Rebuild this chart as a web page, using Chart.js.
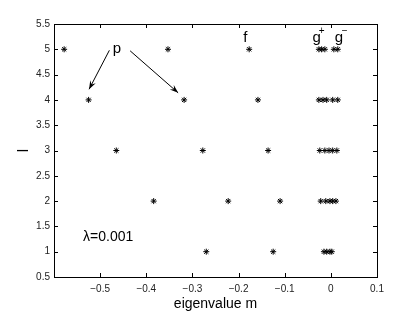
<!DOCTYPE html>
<html>
<head>
<meta charset="utf-8">
<script src="https://cdn.jsdelivr.net/npm/chart.js@4/dist/chart.umd.min.js"></script>
<style>
  html, body { margin: 0; padding: 0; background: #fff; }
  #wrap { width: 415px; height: 313px; }
</style>
</head>
<body>
<div id="wrap"><canvas id="eigChart" width="415" height="313"></canvas></div>
<script>
// eigenvalues m for each l
const levels = [1, 2, 3, 4, 5];
const pModes = [
  [-0.270],            // l=1
  [-0.384, -0.2225],   // l=2
  [-0.465, -0.2775],   // l=3
  [-0.525, -0.318],    // l=4
  [-0.578, -0.353]     // l=5
];
const fModes = [-0.125, -0.110, -0.136, -0.158, -0.177];
const gModes = [
  [-0.015, -0.009, -0.002, 0.002],
  [-0.022, -0.011, -0.002, 0.004, 0.011],
  [-0.024, -0.013, -0.004, 0.004, 0.013],
  [-0.026, -0.017, -0.009, 0.004, 0.015],
  [-0.026, -0.020, -0.013, 0.0065, 0.015]
];
const xTicks = [-0.6, -0.5, -0.4, -0.3, -0.2, -0.1, 0, 0.1];
const yTicks = [0.5, 1, 1.5, 2, 2.5, 3, 3.5, 4, 4.5, 5, 5.5];

const points = [];
levels.forEach((l, i) => {
  pModes[i].forEach(m => points.push({ x: m, y: l }));
  points.push({ x: fModes[i], y: l });
  gModes[i].forEach(m => points.push({ x: m, y: l }));
});

// boîte, ticks intérieurs et annotations
const framePlugin = {
  id: 'frame',
  afterDraw(chart) {
    const { ctx, chartArea: a, scales } = chart;
    const xs = scales.x, ys = scales.y;
    ctx.save();
    ctx.strokeStyle = '#000';
    ctx.lineWidth = 1;
    ctx.strokeRect(a.left + 0.5, a.top + 0.5, a.right - a.left, a.bottom - a.top);
    const t = 4;
    ctx.beginPath();
    xTicks.forEach(v => {
      const px = Math.round(xs.getPixelForValue(v)) + 0.5;
      ctx.moveTo(px, a.bottom); ctx.lineTo(px, a.bottom - t);
      ctx.moveTo(px, a.top); ctx.lineTo(px, a.top + t);
    });
    yTicks.forEach(v => {
      const py = Math.round(ys.getPixelForValue(v)) + 0.5;
      ctx.moveTo(a.left, py); ctx.lineTo(a.left + t, py);
      ctx.moveTo(a.right, py); ctx.lineTo(a.right - t, py);
    });
    ctx.stroke();

    const X = v => xs.getPixelForValue(v);
    const Y = v => ys.getPixelForValue(v);
    ctx.fillStyle = '#000';
    ctx.textBaseline = 'middle';
    ctx.textAlign = 'center';

    // y-axis label "l", rotated
    ctx.save();
    ctx.translate(24, (a.top + a.bottom) / 2);
    ctx.rotate(-Math.PI / 2);
    ctx.font = '15px "Liberation Sans", Arial, sans-serif';
    ctx.fillText('l', 0, 0);
    ctx.restore();

    ctx.font = '15px "Liberation Sans", Arial, sans-serif';
    ctx.fillText('p', X(-0.4637), Y(5.0));
    ctx.fillText('f', X(-0.1854), Y(5.23));
    ctx.fillText('g', X(-0.031), Y(5.23));
    ctx.fillText('g', X(0.0175), Y(5.23));
    ctx.font = '10px "Liberation Sans", Arial, sans-serif';
    ctx.fillText('+', X(-0.020), Y(5.36));
    ctx.fillText('\u2212', X(0.030), Y(5.36));
    ctx.textAlign = 'left';
    ctx.font = '14px "Liberation Sans", Arial, sans-serif';
    ctx.fillText('\u03bb=0.001', X(-0.537), Y(1.29));

    const arrow = (x1, y1, x2, y2) => {
      const ax = X(x1), ay = Y(y1), bx = X(x2), by = Y(y2);
      ctx.beginPath();
      ctx.moveTo(ax, ay); ctx.lineTo(bx, by);
      ctx.stroke();
      const ang = Math.atan2(by - ay, bx - ax);
      const len = 9, w = 0.35;
      ctx.beginPath();
      ctx.moveTo(bx, by);
      ctx.lineTo(bx - len * Math.cos(ang - w), by - len * Math.sin(ang - w));
      ctx.lineTo(bx - len * 0.6 * Math.cos(ang), by - len * 0.6 * Math.sin(ang));
      ctx.lineTo(bx - len * Math.cos(ang + w), by - len * Math.sin(ang + w));
      ctx.closePath();
      ctx.fill();
    };
    arrow(-0.480, 4.98, -0.524, 4.21);
    arrow(-0.435, 4.97, -0.331, 4.14);
    ctx.restore();
  }
};

const ctx = document.getElementById('eigChart').getContext('2d');
new Chart(ctx, {
  type: 'scatter',
  data: {
    datasets: [{
      data: points,
      pointStyle: 'star',
      radius: 3,
      borderColor: '#000',
      borderWidth: 1,
      backgroundColor: '#000'
    }]
  },
  options: {
    responsive: false,
    animation: false,
    layout: { padding: { top: 24, right: 38, left: 0, bottom: 0 } },
    plugins: { legend: { display: false }, tooltip: { enabled: false } },
    scales: {
      x: {
        type: 'linear',
        min: -0.6, max: 0.1,
        afterBuildTicks: s => { s.ticks = xTicks.map(v => ({ value: v })); },
        afterFit: s => { s.height = 36; },
        grid: { display: false, drawTicks: false },
        border: { display: true, color: '#555', width: 1 },
        ticks: {
          padding: 6,
          color: '#222',
          font: { size: 10, family: 'Liberation Sans' },
          maxRotation: 0,
          callback: v => (Math.abs(v + 0.6) < 1e-9 ? '' : String(Math.round(v * 10) / 10).replace('-', '\u2212'))
        },
        title: {
          display: true, text: 'eigenvalue m', color: '#000',
          font: { size: 14, family: 'Liberation Sans' }, padding: { top: 0, bottom: 0 }
        }
      },
      y: {
        type: 'linear',
        min: 0.5, max: 5.5,
        afterBuildTicks: s => { s.ticks = yTicks.map(v => ({ value: v })); },
        afterFit: s => { s.width = 54; },
        grid: { display: false, drawTicks: false },
        border: { display: true, color: '#555', width: 1 },
        ticks: {
          padding: 4,
          color: '#222',
          font: { size: 10, family: 'Liberation Sans' },
          callback: v => String(v)
        }
      }
    }
  },
  plugins: [framePlugin]
});
</script>
</body>
</html>
